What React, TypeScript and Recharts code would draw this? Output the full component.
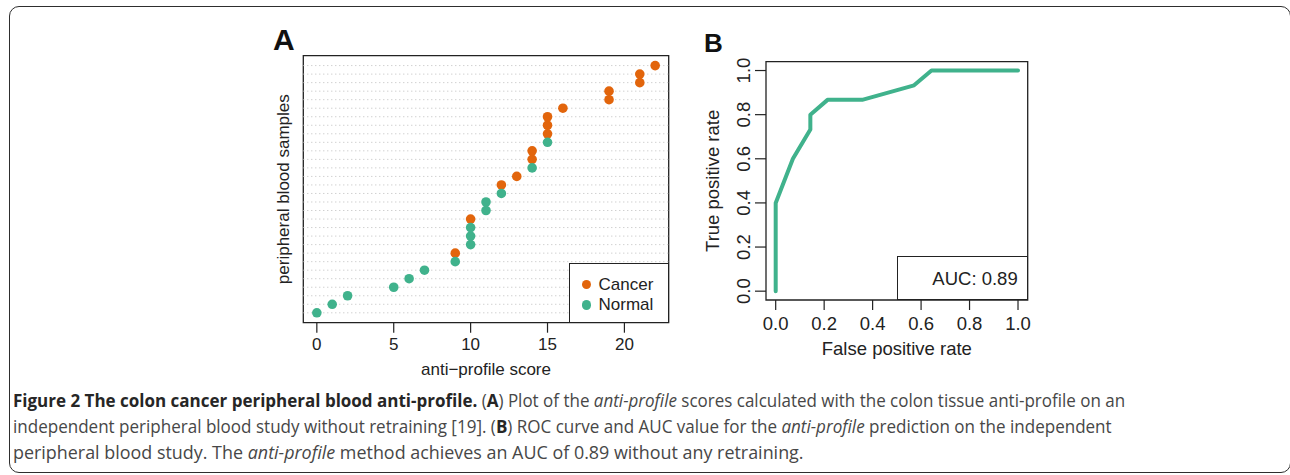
import React, { useLayoutEffect, useRef, useState } from 'react';
import {
  ScatterChart,
  Scatter,
  XAxis,
  YAxis,
  ReferenceLine,
  ReferenceArea,
  LineChart,
  Line,
} from 'recharts';

// ---- Panel A data: anti-profile score per peripheral blood sample (sorted) ----
const sampleScores = [0, 1, 2, 5, 6, 7, 9, 9, 10, 10, 10, 10, 11, 11, 12, 12, 13, 14, 14, 14, 15, 15, 15, 15, 16, 19, 19, 21, 21, 22];
const sampleGroups = [
  'Normal', 'Normal', 'Normal', 'Normal', 'Normal', 'Normal', 'Normal', 'Cancer',
  'Normal', 'Normal', 'Normal', 'Cancer', 'Normal', 'Normal', 'Normal', 'Cancer',
  'Cancer', 'Normal', 'Cancer', 'Cancer', 'Normal', 'Cancer', 'Cancer', 'Cancer',
  'Cancer', 'Cancer', 'Cancer', 'Cancer', 'Cancer', 'Cancer',
];
const groupNames = ['Cancer', 'Normal'];
const groupColors = ['#E2650C', '#40B28C'];
const scoreTicks = [0, 5, 10, 15, 20];

// ---- Panel B data: ROC curve ----
const rocFpr = [0, 0, 0.071, 0.143, 0.143, 0.214, 0.357, 0.571, 0.643, 1.0];
const rocTpr = [0, 0.4, 0.6, 0.733, 0.8, 0.867, 0.867, 0.933, 1.0, 1.0];
const rateTicks = [0, 0.2, 0.4, 0.6, 0.8, 1.0];
const aucLabel = 'AUC: 0.89';

const FONT = "'Liberation Sans', Arial, Helvetica, sans-serif";
const INK = '#222';

const scatterData = groupNames.map((g) =>
  sampleScores
    .map((s, i) => ({ score: s, row: i + 1, group: sampleGroups[i] }))
    .filter((d) => d.group === g)
);
const rocData = rocFpr.map((f, i) => ({ fpr: f, tpr: rocTpr[i] }));

const A_X_DOMAIN: [number, number] = [-0.88, 22.88];
const A_Y_DOMAIN: [number, number] = [-0.16, 31.16];
const B_DOMAIN: [number, number] = [-0.04, 1.04];

const RotatedTick = (props: any) => {
  const { x, y, payload } = props;
  return (
    <text
      x={x}
      y={y}
      transform={`rotate(-90, ${x}, ${y})`}
      textAnchor="middle"
      fill={INK}
      fontSize={18.5}
    >
      {Number(payload.value).toFixed(1)}
    </text>
  );
};

const PanelA = () => (
  <div style={{ position: 'absolute', left: 250, top: 30, width: 450, height: 360 }}>
    <ScatterChart
      width={450}
      height={360}
      margin={{ left: 12.7, top: 25.7, right: 31.3, bottom: 37.3 }}
    >
      <XAxis
        type="number"
        dataKey="score"
        domain={A_X_DOMAIN}
        ticks={scoreTicks}
        interval={0}
        allowDataOverflow
        height={30}
        axisLine={false}
        tickSize={10}
        tickMargin={5.6}
        tickLine={{ stroke: INK, strokeWidth: 1.2 }}
        tick={{ fill: INK, fontSize: 17 }}
        label={{ value: 'anti\u2212profile score', position: 'bottom', offset: 9.9, fill: INK, fontSize: 17 }}
      />
      <YAxis
        type="number"
        dataKey="row"
        domain={A_Y_DOMAIN}
        allowDataOverflow
        width={40.6}
        tick={false}
        tickLine={false}
        axisLine={false}
        label={{ value: 'peripheral blood samples', angle: -90, position: 'center', fill: INK, fontSize: 17 }}
      />
      {sampleScores.map((_, i) => (
        <ReferenceLine
          key={`g${i}`}
          y={i + 1}
          stroke="#bdbdbd"
          strokeWidth={1}
          strokeDasharray="1 3"
        />
      ))}
      <ReferenceArea
        x1={A_X_DOMAIN[0]}
        x2={A_X_DOMAIN[1]}
        y1={A_Y_DOMAIN[0]}
        y2={A_Y_DOMAIN[1]}
        fill="none"
        fillOpacity={0}
        stroke={INK}
        strokeWidth={1.3}
      />
      {groupNames.map((g, gi) => (
        <Scatter
          key={g}
          name={g}
          data={scatterData[gi]}
          isAnimationActive={false}
          shape={(p: any) => <circle cx={p.cx} cy={p.cy} r={4.8} fill={groupColors[gi]} />}
        />
      ))}
    </ScatterChart>
  </div>
);

const LegendA = () => (
  <div
    style={{
      position: 'absolute',
      left: 569.3,
      top: 262.7,
      width: 99.4,
      height: 60,
      boxSizing: 'border-box',
      border: `1.3px solid ${INK}`,
      background: '#fff',
    }}
  >
    {groupNames.map((g, gi) => (
      <div
        key={g}
        style={{
          position: 'absolute',
          left: 0,
          top: 11 + gi * 20.4,
          height: 20,
          display: 'flex',
          alignItems: 'center',
          fontSize: 17,
          color: INK,
        }}
      >
        <span
          style={{
            display: 'inline-block',
            width: 9.6,
            height: 9.6,
            borderRadius: '50%',
            background: groupColors[gi],
            marginLeft: 11.6,
            marginRight: 7,
          }}
        />
        <span>{g}</span>
      </div>
    ))}
  </div>
);

const PanelB = () => (
  <div style={{ position: 'absolute', left: 640, top: 30, width: 400, height: 360 }}>
    <LineChart
      width={400}
      height={360}
      data={rocData}
      margin={{ left: 19.4, top: 31.7, right: 12.3, bottom: 60 }}
    >
      <XAxis
        type="number"
        dataKey="fpr"
        domain={B_DOMAIN}
        ticks={rateTicks}
        interval={0}
        allowDataOverflow
        height={30}
        axisLine={false}
        tickSize={10}
        tickMargin={7}
        tickLine={{ stroke: INK, strokeWidth: 1.2 }}
        tick={{ fill: INK, fontSize: 18.5 }}
        tickFormatter={(v: number) => v.toFixed(1)}
        label={{ value: 'False positive rate', position: 'bottom', offset: 12, fill: INK, fontSize: 18.5 }}
      />
      <YAxis
        type="number"
        domain={B_DOMAIN}
        ticks={rateTicks}
        interval={0}
        allowDataOverflow
        width={106.6}
        axisLine={false}
        tickSize={11}
        tickMargin={5}
        tickLine={{ stroke: INK, strokeWidth: 1.2 }}
        tick={<RotatedTick />}
        label={{ value: 'True positive rate', angle: -90, position: 'center', fill: INK, fontSize: 18.5 }}
      />
      <ReferenceArea
        x1={B_DOMAIN[0]}
        x2={B_DOMAIN[1]}
        y1={B_DOMAIN[0]}
        y2={B_DOMAIN[1]}
        fill="none"
        fillOpacity={0}
        stroke={INK}
        strokeWidth={1.3}
      />
      <Line
        type="linear"
        dataKey="tpr"
        stroke={groupColors[1]}
        strokeWidth={4}
        strokeLinejoin="round"
        strokeLinecap="round"
        dot={false}
        activeDot={false}
        isAnimationActive={false}
      />
    </LineChart>
  </div>
);

const AucBox = () => (
  <div
    style={{
      position: 'absolute',
      left: 897.3,
      top: 256,
      width: 130.4,
      height: 44,
      boxSizing: 'border-box',
      border: `1.3px solid ${INK}`,
      background: '#fff',
      fontSize: 18.5,
      color: INK,
      display: 'flex',
      alignItems: 'center',
      justifyContent: 'flex-end',
      paddingRight: 9,
      paddingTop: 2,
    }}
  >
    {aucLabel}
  </div>
);

const CAP_FONT = "'Open Sans', 'Noto Sans', sans-serif";
const BOLD_COL = '#262626';
const REG_COL = '#474747';

const FitLine = ({ width, top, children }: { width: number; top: number; children: React.ReactNode }) => {
  const ref = useRef<HTMLDivElement>(null);
  const [scale, setScale] = useState(1);
  useLayoutEffect(() => {
    if (ref.current) {
      const w = ref.current.scrollWidth;
      if (w > 0) setScale(width / w);
    }
  }, [width]);
  return (
    <div
      ref={ref}
      style={{
        position: 'absolute',
        left: 13,
        top,
        whiteSpace: 'pre',
        fontFamily: CAP_FONT,
        fontSize: 18,
        lineHeight: '26px',
        color: REG_COL,
        transform: `scaleX(${scale})`,
        transformOrigin: '0 0',
      }}
    >
      {children}
    </div>
  );
};

const B = ({ children }: { children: React.ReactNode }) => (
  <span style={{ fontWeight: 700, color: BOLD_COL }}>{children}</span>
);
const I = ({ children }: { children: React.ReactNode }) => (
  <span style={{ fontStyle: 'italic' }}>{children}</span>
);

const Caption = () => (
  <>
    <FitLine width={1112} top={387}>
      <B>Figure 2 The colon cancer peripheral blood anti-profile.</B>
      {' ('}
      <B>A</B>
      {') Plot of the '}
      <I>anti-profile</I>
      {' scores calculated with the colon tissue anti-profile on an'}
    </FitLine>
    <FitLine width={1098.5} top={413}>
      {'independent peripheral blood study without retraining [19]. ('}
      <B>B</B>
      {') ROC curve and AUC value for the '}
      <I>anti-profile</I>
      {' prediction on the independent'}
    </FitLine>
    <FitLine width={791} top={439}>
      {'peripheral blood study. The '}
      <I>anti-profile</I>
      {' method achieves an AUC of 0.89 without any retraining.'}
    </FitLine>
  </>
);

export default function App() {
  return (
    <div
      style={{
        position: 'absolute',
        left: 0,
        top: 0,
        width: 1290,
        height: 475,
        overflow: 'hidden',
        background: '#fff',
        fontFamily: FONT,
      }}
    >
      <div
        style={{
          position: 'absolute',
          left: 9,
          top: 6,
          width: 1282,
          height: 467,
          boxSizing: 'border-box',
          border: '1.5px solid #2e2e2e',
          borderRadius: 10,
        }}
      />
      <div
        style={{
          position: 'absolute',
          left: 273,
          top: 22,
          fontSize: 30,
          fontWeight: 700,
          color: '#111',
          lineHeight: '36px',
        }}
      >
        A
      </div>
      <div
        style={{
          position: 'absolute',
          left: 704,
          top: 27,
          fontSize: 26,
          fontWeight: 700,
          color: '#111',
          lineHeight: '32px',
        }}
      >
        B
      </div>
      <PanelA />
      <LegendA />
      <PanelB />
      <AucBox />
      <Caption />
    </div>
  );
}
